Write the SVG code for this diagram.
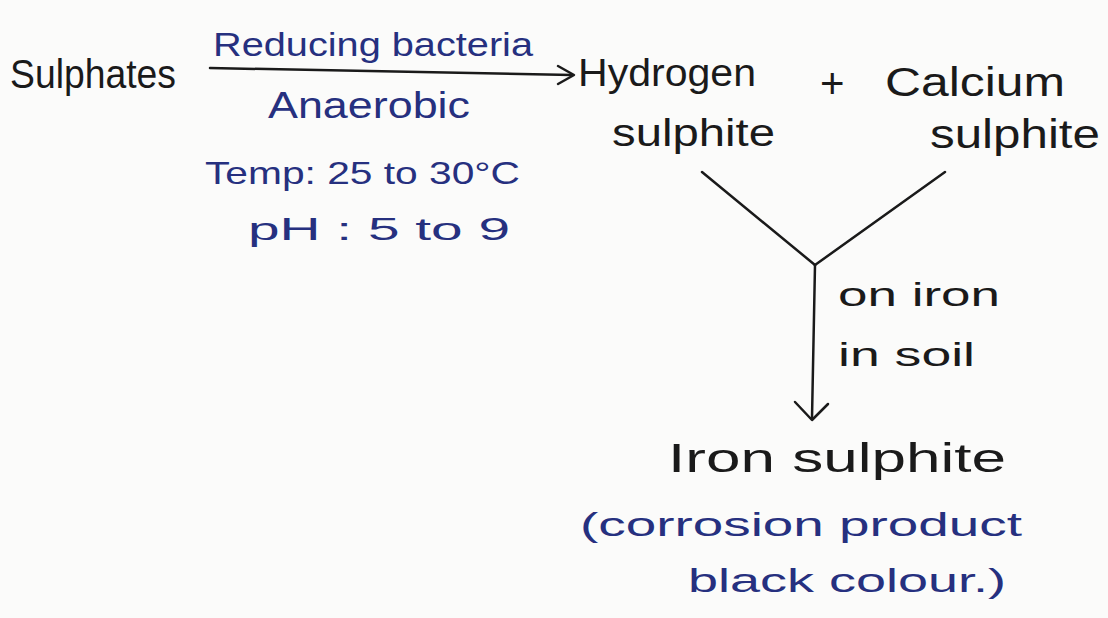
<svg xmlns="http://www.w3.org/2000/svg" width="1108" height="618" viewBox="0 0 1108 618">
<style>
text{font-family:"Liberation Sans",Arial,sans-serif}
.k{fill:#1a1a1a}
.b{fill:#26307f}
.ln{stroke:#1a1a1a;stroke-width:2.5;fill:none;stroke-linecap:round;stroke-linejoin:round}
</style>
<rect width="1108" height="618" fill="#fbfbfa"/>
<g id="sulphates"><text class="k" x="10" y="88" font-size="40" textLength="166" lengthAdjust="spacingAndGlyphs">Sulphates</text></g>
<g id="conditions">
<text class="b" x="213" y="56" font-size="34" textLength="320" lengthAdjust="spacingAndGlyphs">Reducing bacteria</text>
<text class="b" x="268" y="118" font-size="36" textLength="202" lengthAdjust="spacingAndGlyphs">Anaerobic</text>
<text class="b" x="205" y="184" font-size="32" textLength="315" lengthAdjust="spacingAndGlyphs">Temp: 25 to 30°C</text>
<text class="b" x="248" y="240" font-size="32" textLength="262" lengthAdjust="spacingAndGlyphs">pH : 5 to 9</text>
</g>
<g id="hydrogen-sulphite">
<text class="k" x="578" y="86" font-size="38" textLength="178" lengthAdjust="spacingAndGlyphs">Hydrogen</text>
<text class="k" x="612" y="146" font-size="38" textLength="163" lengthAdjust="spacingAndGlyphs">sulphite</text>
</g>
<g id="plus"><text class="k" x="820" y="98" font-size="42">+</text></g>
<g id="calcium-sulphite">
<text class="k" x="885" y="96" font-size="40" textLength="180" lengthAdjust="spacingAndGlyphs">Calcium</text>
<text class="k" x="930" y="148" font-size="40" textLength="170" lengthAdjust="spacingAndGlyphs">sulphite</text>
</g>
<g id="condition2">
<text class="k" x="838" y="306" font-size="34" textLength="162" lengthAdjust="spacingAndGlyphs">on iron</text>
<text class="k" x="838" y="366" font-size="34" textLength="137" lengthAdjust="spacingAndGlyphs">in soil</text>
</g>
<g id="iron-sulphite">
<text class="k" x="668" y="472" font-size="40" textLength="338" lengthAdjust="spacingAndGlyphs">Iron sulphite</text>
<text class="b" x="580" y="536" font-size="34" textLength="442" lengthAdjust="spacingAndGlyphs">(corrosion product</text>
<text class="b" x="688" y="592" font-size="34" textLength="318" lengthAdjust="spacingAndGlyphs">black colour.)</text>
</g>
<g id="connectors">
<path class="ln" d="M210 68 L572 75"/>
<path class="ln" d="M558 66 L574 75 L558 84"/>
<path class="ln" d="M702 172 L815 265"/>
<path class="ln" d="M945 172 L815 265"/>
<path class="ln" d="M815 265 L812 418"/>
<path class="ln" d="M795 402 L812 420 L828 404"/>
</g>
</svg>
